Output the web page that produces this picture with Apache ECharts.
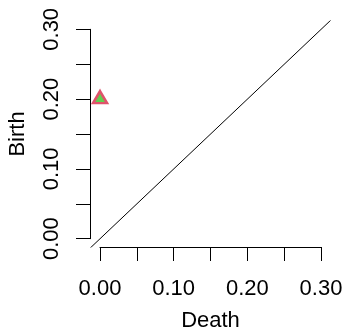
<!DOCTYPE html>
<html><head><meta charset="utf-8">
<script src="https://cdn.jsdelivr.net/npm/echarts@6/dist/echarts.min.js"></script>
<style>html,body{margin:0;padding:0;background:#fff}#c{width:344px;height:330px}</style>
</head><body><div id="c"></div>
<script>
// Data
const deathValues = [0.00];
const birthValues = [0.20];
const diagonal = [[-1, -1], [1, 1]];
const tickValues = [0, 0.05, 0.10, 0.15, 0.20, 0.25, 0.30];
const labelledTicks = ['0.00', '0.10', '0.20', '0.30'];
const plotRange = [-0.012, 0.312];

const FONT = 'Liberation Sans, Arial, Helvetica, sans-serif';
const FS = 22;
function fmt(v){
  const s = v.toFixed(2);
  return labelledTicks.indexOf(s) >= 0 ? s : '';
}
const chart = echarts.init(document.getElementById('c'), null, {renderer:'canvas'});
const hidden = {show:false};
chart.setOption({
  animation:false,
  backgroundColor:'#fff',
  grid:[
    {left:91.2, top:21, width:238.7, height:226.1, containLabel:false, outerBoundsMode:'none'},
    {left:100, top:29.3, width:221, height:209.4, containLabel:false, outerBoundsMode:'none'}
  ],
  xAxis:[
    {gridIndex:0, type:'value', min:plotRange[0], max:plotRange[1], axisLine:hidden, axisTick:hidden, axisLabel:hidden, splitLine:hidden},
    {gridIndex:1, type:'value', min:tickValues[0], max:tickValues[tickValues.length-1], interval:0.05, position:'bottom', offset:8.3,
     axisLine:{show:true, onZero:false, lineStyle:{color:'#000', width:1}},
     axisTick:{show:true, inside:false, length:14, lineStyle:{color:'#000', width:1}},
     axisLabel:{show:true, margin:31, color:'#000', fontFamily:FONT, fontSize:FS, formatter:fmt, showMinLabel:true, showMaxLabel:true},
     splitLine:hidden,
     name:'Death', nameLocation:'middle', nameGap:63, nameTextStyle:{color:'#000', fontFamily:FONT, fontSize:FS}}
  ],
  yAxis:[
    {gridIndex:0, type:'value', min:plotRange[0], max:plotRange[1], axisLine:hidden, axisTick:hidden, axisLabel:hidden, splitLine:hidden},
    {gridIndex:1, type:'value', min:tickValues[0], max:tickValues[tickValues.length-1], interval:0.05, position:'left', offset:10,
     axisLine:{show:true, onZero:false, lineStyle:{color:'#000', width:1}},
     axisTick:{show:true, inside:false, length:14, lineStyle:{color:'#000', width:1}},
     axisLabel:{show:true, margin:27, rotate:90, color:'#000', fontFamily:FONT, fontSize:FS, formatter:fmt, showMinLabel:true, showMaxLabel:true, align:'center', verticalAlign:'bottom'},
     splitLine:hidden,
     name:'Birth', nameLocation:'middle', nameGap:61, nameRotate:90, nameTextStyle:{color:'#000', fontFamily:FONT, fontSize:FS}}
  ],
  series:[
    {type:'line', xAxisIndex:0, yAxisIndex:0, data:diagonal, symbol:'none', clip:true,
     lineStyle:{color:'#000', width:1}},
    {type:'scatter', xAxisIndex:0, yAxisIndex:0, data:deathValues.map((d,i)=>[d, birthValues[i]]),
     symbol:'triangle', symbolSize:[14,12], symbolOffset:[0,-2],
     itemStyle:{color:'#61D04F', borderColor:'#DF536B', borderWidth:2.5, opacity:1}}
  ]
});
</script></body></html>
